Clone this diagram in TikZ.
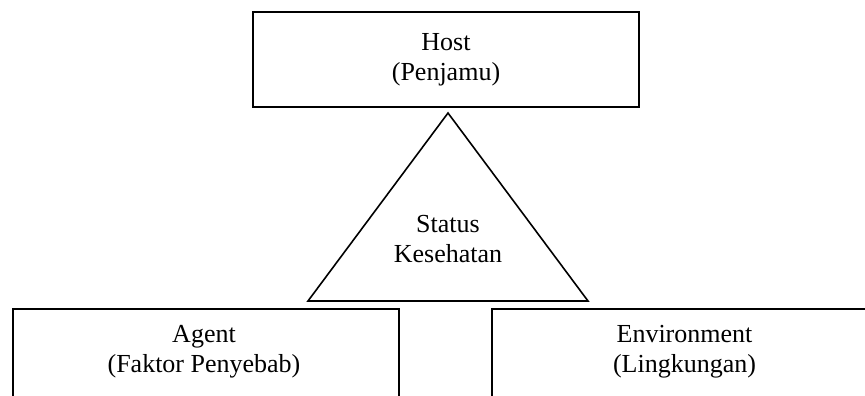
\documentclass[tikz,border=0pt]{standalone}
\usepackage{fontspec}
\setmainfont{Liberation Serif}
\begin{document}
\begin{tikzpicture}[x=1pt, y=-1pt,
    box/.style={draw, line width=1.6pt, align=center, inner sep=0pt,
        font=\fontsize{26}{30}\selectfont},
    lbl/.style={align=center, inner sep=0pt, font=\fontsize{26}{30}\selectfont}]
        % Cadre de la page
        \useasboundingbox (0,0) rectangle (865,396);
        \clip (0,0) rectangle (865,396);

        % Host en haut
        \node[box, minimum width=386pt, minimum height=95pt] (host) at (446,59.5) {Host\\(Penjamu)};

        % Triangle central
        \coordinate (apex) at (448,113);
        \coordinate (baseL) at (308,301);
        \coordinate (baseR) at (588,301);
        \draw[line width=1.6pt, line join=miter] (apex) -- (baseL) -- (baseR) -- cycle;
        \node[lbl] (status) at (448,239) {Status\\Kesehatan};

        % Agent et Environment en bas (coupés par le bord)
        \node[box, minimum width=386pt, minimum height=110pt] (agent) at (206,364) {};
        \node[lbl] (agenttxt) at (204,351.5) {Agent\\(Faktor Penyebab)};
        \node[box, minimum width=385pt, minimum height=110pt] (env) at (684.5,364) {};
        \node[lbl] (envtxt) at (684.5,351.5) {Environment\\(Lingkungan)};

    \end{tikzpicture}
\end{document}
